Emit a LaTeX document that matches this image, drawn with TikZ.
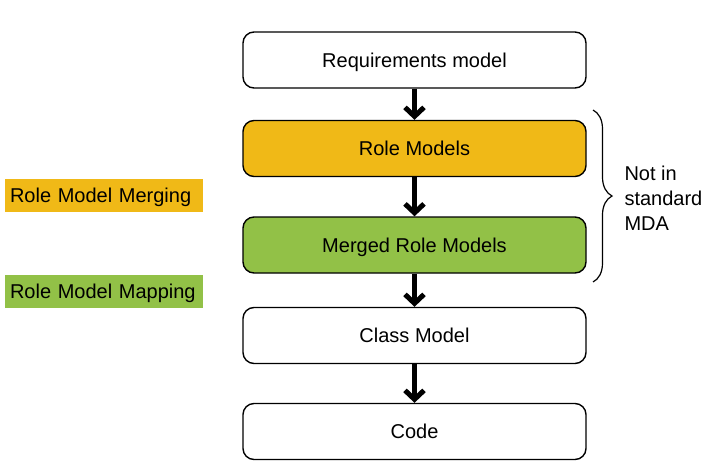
\documentclass[tikz,border=0pt]{standalone}
\usepackage{fontspec}
\setmainfont{Liberation Sans}
\usetikzlibrary{arrows.meta,decorations.pathreplacing}

\definecolor{mergeorange}{RGB}{240,185,23}
\definecolor{mapgreen}{RGB}{146,193,71}

\tikzset{
    model/.style={draw, line width=1.4pt, rounded corners=11pt, minimum width=343pt,
        minimum height=56pt, text height=14pt, text depth=0pt,
        font=\fontsize{20}{24}\selectfont},
    flow/.style={line width=5pt, -{Straight Barb[length=9pt,width=19pt]}},
    tag/.style={minimum width=198pt, minimum height=33pt, text width=188pt,
        text height=14pt, text depth=0pt, align=left, inner xsep=5pt,
        font=\fontsize{20}{24}\selectfont}
}

\begin{document}
\begin{tikzpicture}[x=1pt, y=-1pt]
    \useasboundingbox (0,0) rectangle (709,466);

    \node[model] (req) at (414.5, 60) {Requirements model};
    \node[model, fill=mergeorange] (role) at (414.5, 148.5) {Role Models};
    \node[model, fill=mapgreen] (merged) at (414.5, 245) {Merged Role Models};
    \node[model] (class) at (414.5, 335.5) {Class Model};
    \node[model] (code) at (414.5, 431.5) {Code};

    \draw[flow] (req) -- (role);
    \draw[flow] (role) -- (merged);
    \draw[flow] (merged) -- (class);
    \draw[flow] (class) -- (code);

    % transformations
    \node[tag, fill=mergeorange] (merging) at (104, 195.5) {Role Model Merging};
    \node[tag, fill=mapgreen] (mapping) at (104, 291.5) {Role Model Mapping};

    % brace over the non-standard steps
    \coordinate (bracetop) at (593, 110);
    \coordinate (bracebot) at (593, 282);
    \draw[line width=1.2pt, decorate, decoration={brace, amplitude=19pt}] (bracetop) -- (bracebot);
    \node[anchor=west, align=left, font=\fontsize{20}{25}\selectfont] (note) at (621, 198)
        {Not in\\standard\\MDA};
\end{tikzpicture}
\end{document}
